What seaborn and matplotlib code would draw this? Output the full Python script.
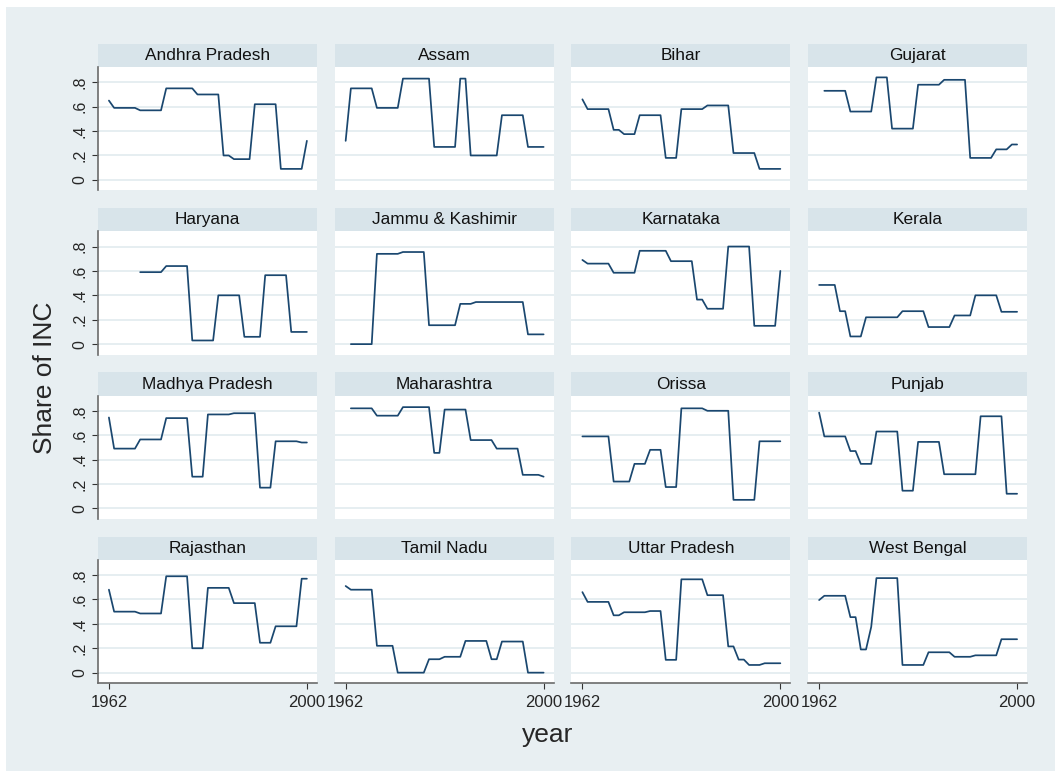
import numpy as np
import pandas as pd
import matplotlib
matplotlib.use("Agg")
import matplotlib.pyplot as plt
from matplotlib.patches import Rectangle
import seaborn as sns

# ---- data ----
years = list(range(1962, 2001))
nan = np.nan

states = ["Andhra Pradesh", "Assam", "Bihar", "Gujarat",
          "Haryana", "Jammu & Kashimir", "Karnataka", "Kerala",
          "Madhya Pradesh", "Maharashtra", "Orissa", "Punjab",
          "Rajasthan", "Tamil Nadu", "Uttar Pradesh", "West Bengal"]

andhra_pradesh = [0.65, 0.59, 0.59, 0.59, 0.59, 0.59, 0.57, 0.57, 0.57, 0.57, 0.57,
                  0.75, 0.75, 0.75, 0.75, 0.75, 0.75, 0.70, 0.70, 0.70, 0.70, 0.70,
                  0.20, 0.20, 0.17, 0.17, 0.17, 0.17, 0.62, 0.62, 0.62, 0.62, 0.62,
                  0.09, 0.09, 0.09, 0.09, 0.09, 0.32]
assam = [0.32, 0.75, 0.75, 0.75, 0.75, 0.75, 0.59, 0.59, 0.59, 0.59, 0.59,
         0.83, 0.83, 0.83, 0.83, 0.83, 0.83, 0.27, 0.27, 0.27, 0.27, 0.27,
         0.83, 0.83, 0.20, 0.20, 0.20, 0.20, 0.20, 0.20, 0.53, 0.53, 0.53,
         0.53, 0.53, 0.27, 0.27, 0.27, 0.27]
bihar = [0.66, 0.58, 0.58, 0.58, 0.58, 0.58, 0.41, 0.41, 0.375, 0.375, 0.375,
         0.53, 0.53, 0.53, 0.53, 0.53, 0.18, 0.18, 0.18, 0.58, 0.58, 0.58,
         0.58, 0.58, 0.61, 0.61, 0.61, 0.61, 0.61, 0.22, 0.22, 0.22, 0.22,
         0.22, 0.09, 0.09, 0.09, 0.09, 0.09]
gujarat = [nan, 0.73, 0.73, 0.73, 0.73, 0.73, 0.56, 0.56, 0.56, 0.56, 0.56,
           0.84, 0.84, 0.84, 0.42, 0.42, 0.42, 0.42, 0.42, 0.78, 0.78, 0.78,
           0.78, 0.78, 0.82, 0.82, 0.82, 0.82, 0.82, 0.18, 0.18, 0.18, 0.18,
           0.18, 0.25, 0.25, 0.25, 0.29, 0.29]
haryana = [nan, nan, nan, nan, nan, nan, 0.59, 0.59, 0.59, 0.59, 0.59,
           0.64, 0.64, 0.64, 0.64, 0.64, 0.03, 0.03, 0.03, 0.03, 0.03, 0.40,
           0.40, 0.40, 0.40, 0.40, 0.06, 0.06, 0.06, 0.06, 0.565, 0.565, 0.565,
           0.565, 0.565, 0.10, 0.10, 0.10, 0.10]
jammu_kashmir = [nan, 0.0, 0.0, 0.0, 0.0, 0.0, 0.74, 0.74, 0.74, 0.74, 0.74,
                 0.755, 0.755, 0.755, 0.755, 0.755, 0.155, 0.155, 0.155, 0.155, 0.155, 0.155,
                 0.33, 0.33, 0.33, 0.345, 0.345, 0.345, 0.345, 0.345, 0.345, 0.345, 0.345,
                 0.345, 0.345, 0.08, 0.08, 0.08, 0.08]
karnataka = [0.69, 0.66, 0.66, 0.66, 0.66, 0.66, 0.585, 0.585, 0.585, 0.585, 0.585,
             0.765, 0.765, 0.765, 0.765, 0.765, 0.765, 0.68, 0.68, 0.68, 0.68, 0.68,
             0.365, 0.365, 0.29, 0.29, 0.29, 0.29, 0.80, 0.80, 0.80, 0.80, 0.80,
             0.15, 0.15, 0.15, 0.15, 0.15, 0.60]
kerala = [0.485, 0.485, 0.485, 0.485, 0.27, 0.27, 0.063, 0.063, 0.063, 0.22, 0.22,
          0.22, 0.22, 0.22, 0.22, 0.22, 0.27, 0.27, 0.27, 0.27, 0.27, 0.14,
          0.14, 0.14, 0.14, 0.14, 0.235, 0.235, 0.235, 0.235, 0.40, 0.40, 0.40,
          0.40, 0.40, 0.265, 0.265, 0.265, 0.265]
madhya_pradesh = [0.745, 0.49, 0.49, 0.49, 0.49, 0.49, 0.565, 0.565, 0.565, 0.565, 0.565,
                  0.74, 0.74, 0.74, 0.74, 0.74, 0.26, 0.26, 0.26, 0.77, 0.77, 0.77,
                  0.77, 0.77, 0.78, 0.78, 0.78, 0.78, 0.78, 0.17, 0.17, 0.17, 0.55,
                  0.55, 0.55, 0.55, 0.55, 0.54, 0.54]
maharashtra = [nan, 0.82, 0.82, 0.82, 0.82, 0.82, 0.76, 0.76, 0.76, 0.76, 0.76,
               0.83, 0.83, 0.83, 0.83, 0.83, 0.83, 0.455, 0.455, 0.81, 0.81, 0.81,
               0.81, 0.81, 0.56, 0.56, 0.56, 0.56, 0.56, 0.49, 0.49, 0.49, 0.49,
               0.49, 0.275, 0.275, 0.275, 0.275, 0.26]
orissa = [0.59, 0.59, 0.59, 0.59, 0.59, 0.59, 0.22, 0.22, 0.22, 0.22, 0.365,
          0.365, 0.365, 0.48, 0.48, 0.48, 0.175, 0.175, 0.175, 0.82, 0.82, 0.82,
          0.82, 0.82, 0.80, 0.80, 0.80, 0.80, 0.80, 0.07, 0.07, 0.07, 0.07,
          0.07, 0.55, 0.55, 0.55, 0.55, 0.55]
punjab = [0.785, 0.59, 0.59, 0.59, 0.59, 0.59, 0.47, 0.47, 0.365, 0.365, 0.365,
          0.63, 0.63, 0.63, 0.63, 0.63, 0.145, 0.145, 0.145, 0.545, 0.545, 0.545,
          0.545, 0.545, 0.28, 0.28, 0.28, 0.28, 0.28, 0.28, 0.28, 0.755, 0.755,
          0.755, 0.755, 0.755, 0.12, 0.12, 0.12]
rajasthan = [0.68, 0.50, 0.50, 0.50, 0.50, 0.50, 0.485, 0.485, 0.485, 0.485, 0.485,
             0.79, 0.79, 0.79, 0.79, 0.79, 0.20, 0.20, 0.20, 0.695, 0.695, 0.695,
             0.695, 0.695, 0.57, 0.57, 0.57, 0.57, 0.57, 0.245, 0.245, 0.245, 0.38,
             0.38, 0.38, 0.38, 0.38, 0.77, 0.77]
tamil_nadu = [0.71, 0.68, 0.68, 0.68, 0.68, 0.68, 0.22, 0.22, 0.22, 0.22, 0.0,
              0.0, 0.0, 0.0, 0.0, 0.0, 0.11, 0.11, 0.11, 0.13, 0.13, 0.13,
              0.13, 0.26, 0.26, 0.26, 0.26, 0.26, 0.11, 0.11, 0.255, 0.255, 0.255,
              0.255, 0.255, 0.0, 0.0, 0.0, 0.0]
uttar_pradesh = [0.66, 0.58, 0.58, 0.58, 0.58, 0.58, 0.47, 0.47, 0.495, 0.495, 0.495,
                 0.495, 0.495, 0.505, 0.505, 0.505, 0.105, 0.105, 0.105, 0.765, 0.765, 0.765,
                 0.765, 0.765, 0.635, 0.635, 0.635, 0.635, 0.215, 0.215, 0.107, 0.107, 0.063,
                 0.063, 0.063, 0.077, 0.077, 0.077, 0.077]
west_bengal = [0.595, 0.63, 0.63, 0.63, 0.63, 0.63, 0.455, 0.455, 0.19, 0.19, 0.375,
               0.775, 0.775, 0.775, 0.775, 0.775, 0.063, 0.063, 0.063, 0.063, 0.063, 0.167,
               0.167, 0.167, 0.167, 0.167, 0.13, 0.13, 0.13, 0.13, 0.142, 0.142, 0.142,
               0.142, 0.142, 0.274, 0.274, 0.274, 0.274]

series = [andhra_pradesh, assam, bihar, gujarat, haryana, jammu_kashmir,
          karnataka, kerala, madhya_pradesh, maharashtra, orissa, punjab,
          rajasthan, tamil_nadu, uttar_pradesh, west_bengal]

yticks = [0, 0.2, 0.4, 0.6, 0.8]
ytick_labels = ["0", ".2", ".4", ".6", ".8"]
xticks = [1962, 2000]
xtick_labels = ["1962", "2000"]

df = pd.concat([pd.DataFrame({"state": s, "year": years, "share": v})
                for s, v in zip(states, series)]).dropna()

# ---- style ----
sns.set_style("white")
plt.rcParams["font.family"] = ["Liberation Sans", "DejaVu Sans"]

bg = "#e8eff2"
strip = "#d8e4ea"
grid = "#e6eef1"
line = "#1a476f"
axis_col = "#6b6b6b"

g = sns.relplot(data=df, x="year", y="share", col="state", col_wrap=4,
                col_order=states, kind="line", estimator=None,
                color=line, linewidth=1.25, height=2, aspect=1.5,
                facet_kws=dict(sharex=True, sharey=True, despine=False))
fig = g.figure
fig.set_size_inches(10.57, 7.73)
fig.subplots_adjust(left=0.0927, right=0.9716, top=0.9133, bottom=0.1164,
                    wspace=0.082, hspace=0.333)
fig.patch.set_facecolor("white")
fig.patches.append(Rectangle((6 / 1057, 2 / 773), 1049 / 1057, 764 / 773,
                             transform=fig.transFigure, facecolor=bg,
                             edgecolor="none", zorder=-10))

strip_h = 0.187
for i, (ax, name) in enumerate(zip(g.axes.flat, states)):
    col, row = i % 4, i // 4
    ax.set_title("")
    ax.set_xlabel("")
    ax.set_ylabel("")
    ax.set_facecolor("white")
    ax.set_xlim(1959.9, 2001.9)
    ax.set_ylim(-0.085, 0.925)
    for y in yticks:
        ax.axhline(y, color=grid, lw=1.4, zorder=0)
    for sp in ax.spines.values():
        sp.set_visible(False)
    ax.add_patch(Rectangle((0, 1), 1, strip_h, transform=ax.transAxes,
                           facecolor=strip, edgecolor="none", clip_on=False))
    ax.text(0.5, 1 + strip_h / 2, name, transform=ax.transAxes,
            ha="center", va="center", fontsize=12.4, color="#111111")

    ax.set_yticks(yticks)
    ax.set_xticks(xticks)
    if col == 0:
        ax.spines["left"].set_visible(True)
        ax.spines["left"].set_color(axis_col)
        ax.spines["left"].set_linewidth(1.2)
        ax.set_yticklabels(ytick_labels, rotation=90, va="center")
        ax.tick_params(axis="y", length=4.5, width=0.8, color="#333333",
                       labelsize=11.5, pad=3, left=True, labelleft=True)
    else:
        ax.tick_params(axis="y", length=0, labelleft=False, left=False)
    if row == 3:
        ax.spines["bottom"].set_visible(True)
        ax.spines["bottom"].set_color(axis_col)
        ax.spines["bottom"].set_linewidth(1.2)
        ax.set_xticklabels(xtick_labels)
        ax.tick_params(axis="x", length=4.5, width=0.8, color="#333333",
                       labelsize=12, pad=4, bottom=True, labelbottom=True)
    else:
        ax.tick_params(axis="x", length=0, labelbottom=False, bottom=False)

fig.text(45 / 1057, 1 - 378 / 773, "Share of INC", rotation=90,
         ha="center", va="center", fontsize=19)
fig.text(548 / 1057, 1 - 735 / 773, "year", ha="center", va="center",
         fontsize=19)

fig.savefig("out.png", dpi=100, facecolor="white")
